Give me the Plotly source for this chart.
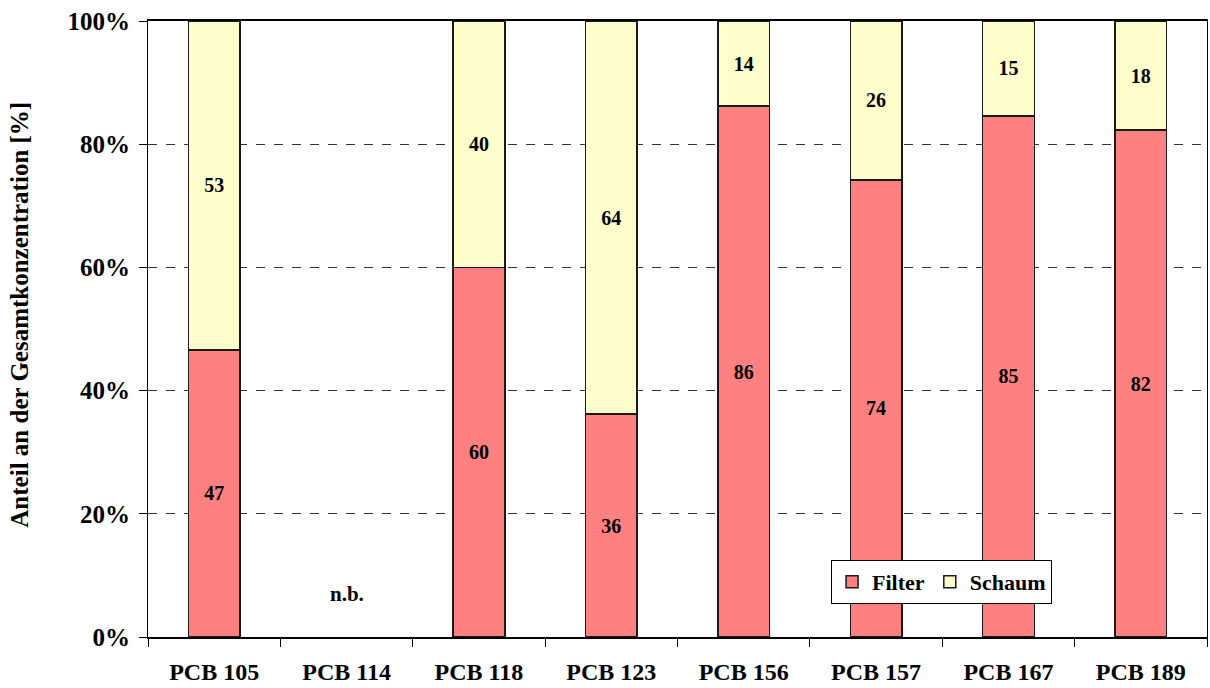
import plotly.graph_objects as go

categories = ["PCB 105", "PCB 114", "PCB 118", "PCB 123", "PCB 156", "PCB 157", "PCB 167", "PCB 189"]
filter_vals = [46.6, None, 60.0, 36.2, 86.2, 74.2, 84.6, 82.3]
schaum_vals = [53.4, None, 40.0, 63.8, 13.8, 25.8, 15.4, 17.7]
tick_vals = [0, 20, 40, 60, 80, 100]
tick_text = ["0%", "20%", "40%", "60%", "80%", "100%"]
missing_label = "n.b."
missing_cat = "PCB 114"
missing_y = 7
y_title = "Anteil an der Gesamtkonzentration [%]"

FONT = "Liberation Serif"

def labels(vals):
    return ["" if v is None else f"<b>{round(v):d}</b>" for v in vals]

fig = go.Figure()
fig.add_trace(go.Bar(
    name="<b>Filter</b>", x=categories, y=filter_vals,
    marker=dict(color="#FF8080", line=dict(color="#1a1a1a", width=1.5)),
    text=labels(filter_vals), textposition="inside", insidetextanchor="middle",
    textfont=dict(family=FONT, size=20, color="black"), textangle=0,
))
fig.add_trace(go.Bar(
    name="<b>Schaum</b>", x=categories, y=schaum_vals,
    marker=dict(color="#FFFFCC", line=dict(color="#1a1a1a", width=1.5)),
    text=labels(schaum_vals), textposition="inside", insidetextanchor="middle",
    textfont=dict(family=FONT, size=20, color="black"), textangle=0,
))

fig.add_annotation(x=missing_cat, y=missing_y, text=f"<b>{missing_label}</b>",
                   showarrow=False, font=dict(family=FONT, size=21, color="black"))
fig.add_annotation(xref="paper", yref="paper", x=-0.121, y=0.523,
                   xanchor="center", yanchor="middle", textangle=-90,
                   text=f"<b>{y_title}</b>", showarrow=False,
                   font=dict(family=FONT, size=25, color="black"))

fig.update_layout(
    barmode="stack", bargap=0.61,
    width=1210, height=688,
    margin=dict(l=148, r=3, t=21, b=51),
    plot_bgcolor="white", paper_bgcolor="white",
    font=dict(family=FONT, color="black"),
    legend=dict(
        x=0.645, y=0.125, xanchor="left", yanchor="top",
        orientation="h", traceorder="normal",
        bgcolor="white", bordercolor="black", borderwidth=1,
        font=dict(family=FONT, size=22, color="black"),
        itemwidth=30, tracegroupgap=0,
    ),
    showlegend=True,
)
fig.update_yaxes(
    range=[0, 100], tickvals=tick_vals, ticktext=[f"<b>{t}</b>" for t in tick_text],
    tickfont=dict(family=FONT, size=25, color="black"),
    showgrid=True, gridcolor="#333333", griddash="dash", gridwidth=1,
    showline=True, linecolor="black", linewidth=1, mirror=True,
    ticks="outside", ticklen=8, tickcolor="black", ticklabelstandoff=4,
    zeroline=False,
)
fig.update_xaxes(
    tickfont=dict(family=FONT, size=24, color="black"),
    ticktext=[f"<b>{c}</b>" for c in categories], tickvals=categories,
    showline=True, linecolor="black", linewidth=1.5, mirror=True,
    ticks="outside", ticklen=8, tickcolor="black", tickson="boundaries",
    ticklabelstandoff=12,
    showgrid=False,
)

fig.write_html("out.html", config={"displayModeBar": False},
               post_script="document.body.style.margin='0';document.body.style.overflow='hidden';")
